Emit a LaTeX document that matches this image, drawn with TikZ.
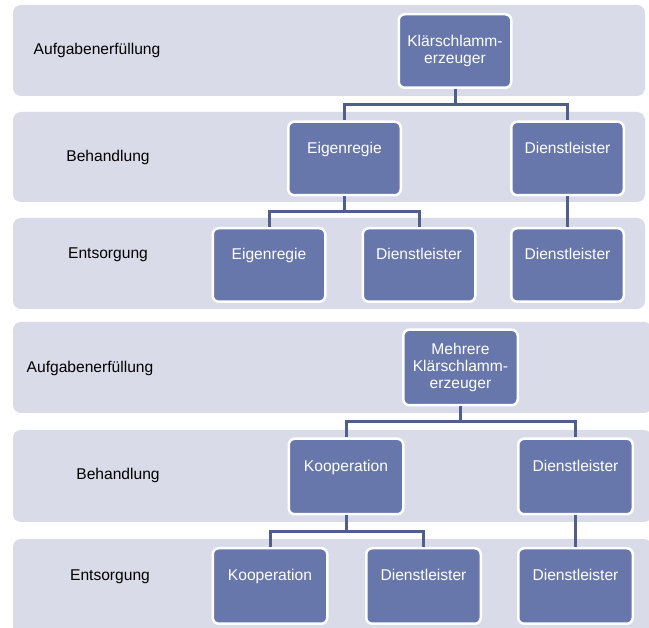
\documentclass[tikz,border=0pt]{standalone}
\usepackage{fontspec}
\setmainfont{Liberation Sans}
\definecolor{lanegray}{RGB}{217,219,232}
\definecolor{unitblue}{RGB}{103,119,171}
\definecolor{linkblue}{RGB}{80,94,142}
\tikzset{
  lane/.style={fill=lanegray, rounded corners=8pt},
  unitbase/.style={rectangle, rounded corners=6pt, fill=unitblue, draw=white, line width=2.5pt,
    text=white, align=center, minimum width=112.5pt, minimum height=73.5pt,
    font=\fontsize{15.6}{17}\selectfont},
  unit/.style={unitbase, text height=11pt, text depth=21pt},
  tag/.style={font=\fontsize{15.6}{17}\selectfont},
  link/.style={draw=linkblue, line width=3pt},
}
\begin{document}
\begin{tikzpicture}[x=1pt, y=-1pt]
      \useasboundingbox (0,0) rectangle (649,628);
      \clip (0,0) rectangle (649,628);
      % upper chart: one producer
      \fill[lane] (13,5) rectangle (645,96);
      \fill[lane] (13,112) rectangle (645,202);
      \fill[lane] (13,218) rectangle (645,309);
      \node[tag] (aufgabe1) at (97,50) {Aufgabenerfüllung};
      \node[tag] (behand1) at (108,157) {Behandlung};
      \node[tag] (entsorg1) at (108,255) {Entsorgung};
      \node[unitbase] (erzeuger1) at (455,51) {Klärschlamm-\\erzeuger};
      \node[unit] (eigenB) at (344.5,158.5) {Eigenregie};
      \node[unit] (dienstB1) at (567.5,158.5) {Dienstleister};
      \node[unit] (eigenE) at (269,265) {Eigenregie};
      \node[unit] (dienstE1) at (419,265) {Dienstleister};
      \node[unit] (dienstE2) at (567.5,265) {Dienstleister};
      \draw[link] (erzeuger1.south) -- ++(0,16) -| (eigenB.north);
      \draw[link] (erzeuger1.south) -- ++(0,16) -| (dienstB1.north);
      \draw[link] (eigenB.south) -- ++(0,15.5) -| (eigenE.north);
      \draw[link] (eigenB.south) -- ++(0,15.5) -| (dienstE1.north);
      \draw[link] (dienstB1.south) -- (dienstE2.north);
      % lower chart: several producers
      \begin{scope}[unitbase/.append style={minimum width=114.5pt, minimum height=75.5pt}]
      \fill[lane] (13,322) rectangle (652,413);
      \fill[lane] (13,430) rectangle (652,522);
      \fill[lane] (13,539) rectangle (652,634);
      \node[tag] (aufgabe2) at (90,368) {Aufgabenerfüllung};
      \node[tag] (behand2) at (118,475) {Behandlung};
      \node[tag] (entsorg2) at (110,577) {Entsorgung};
      \node[unitbase] (erzeuger2) at (460.5,367.5) {Mehrere\\Klärschlamm-\\erzeuger};
      \node[unit] (koopB) at (346,476.5) {Kooperation};
      \node[unit] (dienstB2) at (575.5,476.5) {Dienstleister};
      \node[unit] (koopE) at (270,586) {Kooperation};
      \node[unit] (dienstE3) at (423.5,586) {Dienstleister};
      \node[unit] (dienstE4) at (575.5,586) {Dienstleister};
      \draw[link] (erzeuger2.south) -- ++(0,15.5) -| (koopB.north);
      \draw[link] (erzeuger2.south) -- ++(0,15.5) -| (dienstB2.north);
      \draw[link] (koopB.south) -- ++(0,16) -| (koopE.north);
      \draw[link] (koopB.south) -- ++(0,16) -| (dienstE3.north);
      \draw[link] (dienstB2.south) -- (dienstE4.north);
      \end{scope}
\end{tikzpicture}
\end{document}
